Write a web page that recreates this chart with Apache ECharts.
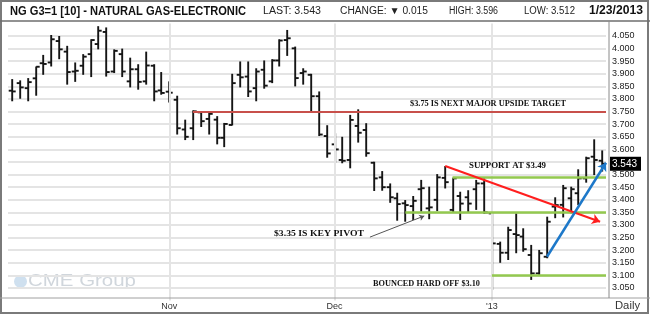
<!DOCTYPE html>
<html><head><meta charset="utf-8">
<script src="https://cdn.jsdelivr.net/npm/echarts@6/dist/echarts.min.js"></script>
<style>html,body{margin:0;padding:0;background:#fff}#c{width:650px;height:315px}</style>
</head><body><div id="c"></div>
<script>
// ---- data ----
var dates = [
 '2012-10-02','2012-10-03','2012-10-04','2012-10-05','2012-10-08','2012-10-09','2012-10-10','2012-10-11','2012-10-12','2012-10-15',
 '2012-10-16','2012-10-17','2012-10-18','2012-10-19','2012-10-22','2012-10-23','2012-10-24','2012-10-25','2012-10-26','2012-10-31',
 '2012-11-01','2012-11-02','2012-11-05','2012-11-06','2012-11-07','2012-11-08','2012-11-09','2012-11-12','2012-11-13','2012-11-14',
 '2012-11-15','2012-11-16','2012-11-19','2012-11-20','2012-11-21','2012-11-23','2012-11-26','2012-11-27','2012-11-28','2012-11-29',
 '2012-11-30','2012-12-03','2012-12-04','2012-12-05','2012-12-06','2012-12-07','2012-12-10','2012-12-11','2012-12-12','2012-12-13',
 '2012-12-14','2012-12-17','2012-12-18','2012-12-19','2012-12-20','2012-12-21','2012-12-24','2012-12-26','2012-12-27','2012-12-28',
 '2012-12-31','2013-01-02','2013-01-03','2013-01-04','2013-01-07','2013-01-08','2013-01-09','2013-01-10','2013-01-11','2013-01-14',
 '2013-01-15','2013-01-16','2013-01-17','2013-01-18','2013-01-22','2013-01-23'];
var opens = [3.833,3.863,3.843,3.882,3.942,3.945,4.030,3.988,3.909,3.932,
 3.978,4.018,4.066,3.909,3.978,3.870,3.918,3.870,3.932,3.834,
 3.829,3.797,3.679,3.684,3.747,3.721,3.718,3.646,3.697,3.896,
 3.889,3.843,3.916,3.870,3.953,4.034,4.001,3.903,3.896,3.811,
 3.653,3.620,3.558,3.558,3.693,3.677,3.547,3.489,3.450,3.406,
 3.386,3.375,3.442,3.366,3.400,3.487,3.360,3.415,3.410,3.442,
 3.465,3.346,3.225,3.190,3.264,3.254,3.181,3.108,3.174,3.373,
 3.380,3.406,3.426,3.485,3.571,3.555];
var highs = [3.879,3.874,3.883,3.929,3.975,4.054,4.050,4.011,3.945,3.978,
 4.037,4.089,4.084,3.997,4.000,3.964,3.938,3.988,3.938,3.907,
 3.870,3.813,3.718,3.755,3.751,3.747,3.732,3.705,3.900,3.949,
 3.949,3.922,3.953,3.958,4.037,4.074,4.008,3.922,3.900,3.830,
 3.696,3.664,3.650,3.737,3.759,3.704,3.551,3.514,3.465,3.428,
 3.399,3.415,3.479,3.452,3.502,3.534,3.488,3.432,3.438,3.479,
 3.485,3.352,3.234,3.293,3.346,3.287,3.221,3.201,3.333,3.410,
 3.459,3.452,3.521,3.571,3.640,3.596];
var lows = [3.791,3.801,3.791,3.813,3.896,3.929,3.958,3.857,3.868,3.896,
 3.887,3.997,3.889,3.903,3.887,3.846,3.837,3.857,3.791,3.817,
 3.786,3.659,3.637,3.637,3.689,3.659,3.620,3.609,3.695,3.846,
 3.808,3.791,3.841,3.863,3.929,3.971,3.850,3.857,3.745,3.653,
 3.567,3.547,3.545,3.525,3.627,3.571,3.435,3.436,3.388,3.317,
 3.313,3.320,3.353,3.323,3.355,3.445,3.348,3.320,3.349,3.360,
 3.345,3.042,3.150,3.161,3.188,3.194,3.082,3.102,3.168,3.327,
 3.330,3.346,3.379,3.468,3.498,3.512];
var closes = [3.830,3.846,3.867,3.928,3.939,4.037,3.997,3.907,3.912,3.968,
 4.034,4.071,3.907,3.991,3.909,3.918,3.868,3.933,3.830,3.824,
 3.825,3.684,3.650,3.751,3.712,3.741,3.646,3.701,3.863,3.886,
 3.830,3.909,3.853,3.953,4.032,4.041,3.883,3.909,3.811,3.659,
 3.584,3.600,3.555,3.717,3.666,3.585,3.485,3.450,3.410,3.383,
 3.379,3.396,3.446,3.370,3.489,3.470,3.485,3.385,3.385,3.465,
 3.350,3.227,3.190,3.280,3.260,3.204,3.108,3.188,3.313,3.379,
 3.446,3.442,3.485,3.565,3.558,3.543];
var monthLabels = {20:'Nov', 41:'Dec', 61:"'13"};
// annotation levels: [start index, end index, price]
var resistanceLine = [23, 75.5, 3.75];
var supportLines = [[56, 75.5, 3.49], [50, 75.5, 3.35], [61, 75.5, 3.10]];
var redArrow = [[55.06, 3.534], [74.75, 3.313]];
var blueArrow = [[68, 3.174], [75.5, 3.547]];
var pointerArrow = [[45.5, 3.252], [52.4, 3.336]];

// ---- chart ----
var chart = echarts.init(document.getElementById('c'), null, {width:650, height:315});
var ohlc = dates.map(function(d, i){ return [i, opens[i], highs[i], lows[i], closes[i]]; });
var n = dates.length;
var last = closes[n-1], prev = closes[n-2];
var hi = highs[n-1], lo = lows[n-1];

var mctx = document.createElement('canvas').getContext('2d');
var SANS = '"Liberation Sans", Arial, sans-serif';
var SERIF = '"Liberation Serif", "Times New Roman", serif';
function txt(str, family, size, weight, x, y, targetW, color, z) {
  var font = weight + ' ' + size + 'px ' + family;
  mctx.font = font;
  var w = mctx.measureText(str).width;
  return {type:'text', x:x, y:y, scaleX: targetW ? targetW / w : 1, z: z == null ? 10 : z,
    style:{text:str, font:font, fill:color, textAlign:'left', verticalAlign:'middle', textVerticalAlign:'middle'}};
}

function seg(p0, p1, color, width, endSymbol, size) {
  return [
    {coord:p0, symbol:'none', lineStyle:{color:color, width:width, type:'solid'}},
    {coord:p1, symbol:endSymbol || 'none', symbolSize: size || 8}
  ];
}
var annot = [];
annot.push(seg([resistanceLine[0], resistanceLine[2]], [resistanceLine[1], resistanceLine[2]], '#c8504b', 2));
supportLines.forEach(function(s){ annot.push(seg([s[0], s[2]], [s[1], s[2]], '#93c94f', 2.5)); });
annot.push(seg(redArrow[0], redArrow[1], '#ff1e1e', 2, 'arrow', 8));
annot.push(seg(blueArrow[0], blueArrow[1], '#1d78c9', 2.5, 'arrow', 8));
annot.push(seg(pointerArrow[0], pointerArrow[1], '#555555', 1, 'arrow', 5));

var option = {
  animation: false,
  grid: {left: 8, right: 44, top: 23.4, bottom: 14.4},
  xAxis: [{
    type: 'category', data: dates, boundaryGap: true,
    axisLine: {show: false}, axisTick: {show: false}, splitLine: {show: false},
    axisLabel: {
      interval: function(i){ return monthLabels[i] !== undefined; },
      formatter: function(v, i){ return monthLabels[i] || ''; },
      margin: 1, fontSize: 9, color: '#333', fontFamily: SANS
    }
  }, {
    type: 'value', min: -0.5, max: n - 0.5, show: false
  }],
  yAxis: {
    type: 'value', position: 'right', offset: 3, min: 3.0, max: 4.1, interval: 0.05,
    axisLine: {show: false}, axisTick: {show: false},
    splitLine: {show: true, showMinLine: false, showMaxLine: false, lineStyle: {color: '#e4e4e4', width: 2}},
    axisLabel: {showMinLabel: false, showMaxLabel: false, formatter: function(v){ return v.toFixed(3); },
      fontSize: 9, color: '#222', margin: 3, padding: [6,0,0,0], fontFamily: SANS}
  },
  series: [{
    type: 'line', data: [], z: 1, silent: true,
    markLine: {silent: true, symbol: ['none','none'], label: {show: false}, animation: false,
      lineStyle: {color: '#e4e4e4', width: 2, type: 'solid'},
      data: Object.keys(monthLabels).map(function(k){ return {xAxis: +k}; })}
  }, {
    type: 'custom', z: 2, data: ohlc, silent: true,
    renderItem: function(params, api) {
      var x = api.value(0);
      var o = api.coord([x, api.value(1)]);
      var h = api.coord([x, api.value(2)]);
      var l = api.coord([x, api.value(3)]);
      var c = api.coord([x, api.value(4)]);
      var st = {stroke: '#151515', lineWidth: 1.9};
      var xc = Math.round(h[0]) + 0.2;
      return {type: 'group', children: [
        {type: 'line', shape: {x1: xc, y1: h[1], x2: xc, y2: l[1]}, style: st},
        {type: 'line', shape: {x1: xc - 3.5, y1: o[1], x2: xc, y2: o[1]}, style: st},
        {type: 'line', shape: {x1: xc, y1: c[1], x2: xc + 3.5, y2: c[1]}, style: st}
      ]};
    }
  }, {
    type: 'line', data: [], z: 3, xAxisIndex: 1, silent: true,
    markLine: {silent: true, label: {show: false}, animation: false, data: annot}
  }],
  graphic: [
    {type:'rect', z:0, shape:{x:14, y:275, width:13, height:13, r:6.5}, style:{fill:'#cfe0ef'}},
    txt('CME Group', SANS, 17, 'normal', 28, 281, 108, '#d0d6dc', 0),
    {type:'rect', z:20, shape:{x:1, y:1, width:647, height:312}, style:{fill:'none', stroke:'#7a7a7a', lineWidth:2}},
    {type:'line', z:20, shape:{x1:0, y1:21, x2:650, y2:21}, style:{stroke:'#6e6e6e', lineWidth:1.5}},
    {type:'line', z:20, shape:{x1:0, y1:298, x2:650, y2:298}, style:{stroke:'#a0a0a0', lineWidth:1}},
    {type:'line', z:20, shape:{x1:609, y1:21, x2:609, y2:298}, style:{stroke:'#8a8a8a', lineWidth:1}},
    txt('NG G3=1 [10] - NATURAL GAS-ELECTRONIC', SANS, 13, 'bold', 10, 11, 236, '#111'),
    txt('LAST: ' + last.toFixed(3), SANS, 10, 'normal', 263, 11.5, 58, '#222'),
    txt('CHANGE: \u25BC ' + (prev - last).toFixed(3), SANS, 10, 'normal', 340, 11.5, 88, '#222'),
    txt('HIGH: ' + hi.toFixed(3), SANS, 10, 'normal', 449, 11.5, 49, '#222'),
    txt('LOW: ' + lo.toFixed(3), SANS, 10, 'normal', 524, 11.5, 51, '#222'),
    txt('1/23/2013', SANS, 12, 'bold', 589, 11, 54, '#111'),
    txt('Daily', SANS, 10, 'normal', 615, 306, 25, '#333'),
    txt('$3.75 IS NEXT MAJOR UPSIDE TARGET', SERIF, 9, 'bold', 410, 104, 156, '#111'),
    txt('SUPPORT AT $3.49', SERIF, 9, 'bold', 469, 166, 77, '#111'),
    txt('$3.35 IS KEY PIVOT', SERIF, 9, 'bold', 274, 234, 90, '#111'),
    txt('BOUNCED HARD OFF $3.10', SERIF, 9, 'bold', 373, 284, 107, '#111')
  ]
};
chart.setOption(option);
var py = chart.convertToPixel({yAxisIndex: 0}, last);
chart.setOption({graphic: option.graphic.concat([
  {type:'rect', z:15, shape:{x:610, y:py - 7, width:31, height:14}, style:{fill:'#000'}},
  txt(last.toFixed(3), SANS, 10, 'normal', 612, py, 0, '#fff', 16)
])});
</script></body></html>
